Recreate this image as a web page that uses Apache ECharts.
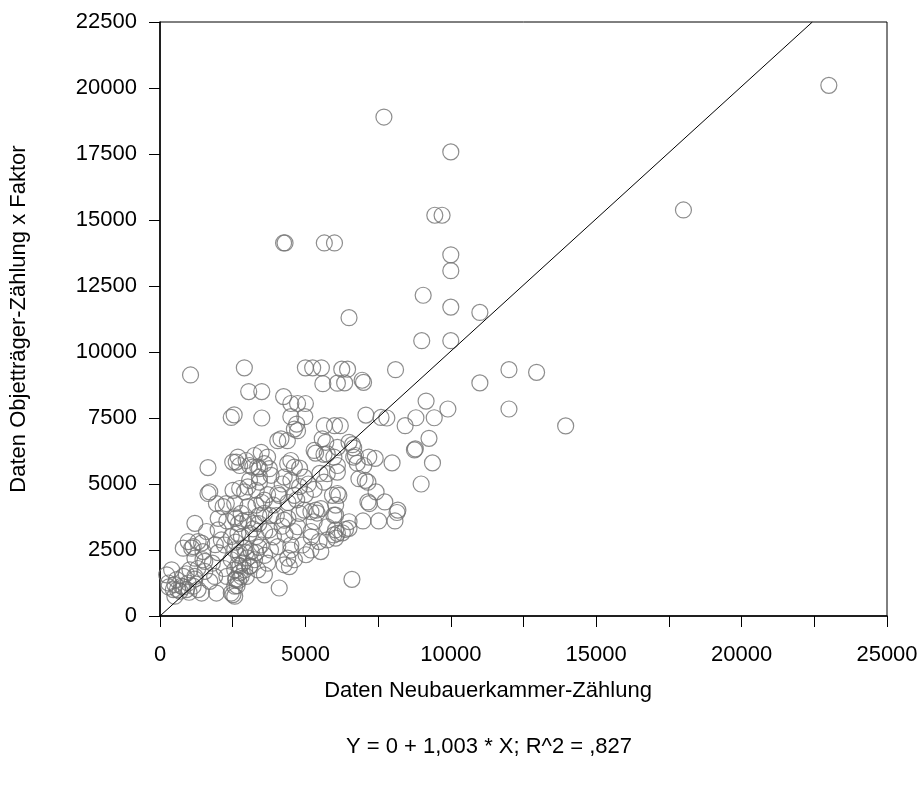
<!DOCTYPE html>
<html>
<head>
<meta charset="utf-8">
<script src="https://cdn.jsdelivr.net/npm/echarts@6/dist/echarts.min.js"></script>
<style>
html,body{margin:0;padding:0;background:#fff;}
#chart{width:922px;height:785px;}
</style>
</head>
<body>
<div id="chart"></div>
<script>
// Axis settings / labels
var xTitle = 'Daten Neubauerkammer-Zählung';
var yTitle = 'Daten Objetträger-Zählung x Faktor';
var fitText = 'Y = 0 + 1,003 * X; R^2 = ,827';
var fitSlope = 1.003;
var fitIntercept = 0;

// Group: high values and outliers
var highX = [23000,18000,7700,10000,9450,9700,10000,10000,9050,10000,11000,4250,4300,5650,6000,6500,9000,10000,6250,6450,6350,6950,7000,8100,12000,12950,11000,9150,9900,12000,13950,1050,2900,5000,5250,5550,5600,6100,3050,3500,4250,4500,4730,5000,4500,4980,3500,2450,2550,5650,6000,7080,7600,7800,8800,9430,8430,6200];
var highY = [20100,15380,18900,17580,15180,15180,13680,13080,12150,11700,11500,14130,14130,14130,14130,11300,10430,10430,9350,9350,8830,8930,8850,9330,9330,9230,8830,8140,7840,7840,7200,9130,9400,9400,9400,9400,8800,8820,8500,8500,8310,8050,8050,8050,7550,7550,7500,7520,7620,7210,7210,7610,7520,7500,7510,7510,7210,7210];

// Group: middle band
var midX = [9250,8750,8780,9370,7980,8980,6500,6620,6720,7180,7400,6780,7010,6840,7060,7150,7430,7150,7200,7730,8180,8150,6500,6980,7520,8080,6380,6500,6270,6600,6040,6040,6150,6100,6040,5980,6660,6100,6660,6100,4160,4380,5580,5700,4620,4730,3250,3480,5350,5640,3080,2620,1650,4050,4700,6100,5300,5750];
var midY = [6730,6290,6330,5800,5800,5000,6580,6490,6080,6020,5970,5790,5700,5200,5140,5070,4700,4320,4260,4320,4010,3920,3570,3600,3600,3600,3280,3320,3150,1390,3820,4200,4570,4640,2950,6020,6020,5700,6370,5450,6710,6640,6710,6580,7080,7020,6080,6200,6170,6120,5700,5830,5620,6640,7270,6390,6270,6140];

// Group: dense centre cluster
var denseX = [3360,3590,3760,4390,4620,4500,2680,2500,2740,2960,3190,3420,3700,3080,3420,3420,3820,4270,4500,4960,5640,5750,5930,5980,5530,5360,3020,3250,3020,3590,3080,4270,4790,4960,5190,4620,4050,4100,3590,3310,3020,4100,3590,4390,4620,4270,4450,5020,4900,5470,5750,5980,5190,4730,4500,4500,4050,3760,3310,3480,3140,3250,3080,3360,2970,6040,5300,5750,6100,5530,5190];
var denseY = [5640,5770,5580,5770,5640,5890,6020,5830,5700,5890,5640,5580,6020,5140,5070,5260,5330,5260,5140,5260,5070,5390,4570,3820,4070,4010,3630,3510,4140,3890,3130,3630,3890,4010,3950,4570,4640,4570,4390,4760,4890,1060,1560,2190,2130,1940,1870,2320,2690,2820,2880,3070,3200,3380,2690,2500,2630,3260,3010,2690,2440,2130,1880,1750,1500,3260,3570,3380,3130,2440,2500];

// Group: low-left cluster
var lowX = [290,510,740,970,460,690,910,1140,570,800,1030,230,400,1200,1310,1430,510,1940,2450,2570,1710,1880,1540,1540,1200,1480,1090,970,1310,1480,1200,2000,2110,2220,2170,1650,1710,1940,2280,2510,2740,2910,2570,2570,2790,2450,2680,2570,2740,2910,2450,2680,2850,2570,2740,2910,2620,2790,2570,2510,800,1140,1430];
var lowY = [1250,1190,1130,1250,1000,940,1000,1130,1380,1500,1750,1560,1750,1500,1000,870,750,870,870,750,1310,1500,1690,2070,2190,2130,2570,2820,2820,2440,3510,3260,2880,2690,4140,4640,4700,4260,4260,4760,4830,4700,4260,3760,3890,3010,3130,2510,2380,2570,2130,1940,2010,1750,1630,1750,1380,1500,1130,810,2570,2630,2760];

// Group: further overlapping points in the dense area
var fillX = [2600,2700,2650,2750,2700,2600,2800,2700,2600,2850,2950,3000,3100,3300,3400,3600,3700,3800,3900,3600,3400,3300,3500,3700,3900,4000,4200,4300,4400,4700,4800,5000,5100,5300,5500,4800,4200,3800,3200,3400,4600,4400,5200,5400,800,600,1000,1200,300,900,1300,1800,2000,2200,2300,1900,2300,2000,1600];
var fillY = [1400,1350,1150,1900,2300,2800,3000,3500,3700,3600,2400,2200,1900,2400,2600,2300,2000,2500,3000,3200,3500,4200,4300,4600,4200,3800,3400,3100,4300,4400,4900,4600,5000,4800,5400,5600,5000,3800,3300,3800,3200,3700,3000,3900,1100,1000,900,1400,1100,1600,1800,2000,2400,1800,1500,2700,3600,3700,3200];

var xTicks = {min: 0, max: 25000, step: 2500, labelStep: 5000};
var yTicks = {min: 0, max: 22500, step: 2500};

function pairs(xs, ys) {
  var out = [];
  for (var i = 0; i < xs.length; i++) out.push([xs[i], ys[i]]);
  return out;
}
var points = [].concat(
  pairs(highX, highY), pairs(midX, midY), pairs(denseX, denseY),
  pairs(lowX, lowY), pairs(fillX, fillY)
);
var fitLine = [[0, fitIntercept], [(yTicks.max - fitIntercept) / fitSlope, yTicks.max]];

var FONT = '"Liberation Sans", Arial, Helvetica, sans-serif';
var FS = 22;
var chart = echarts.init(document.getElementById('chart'), null, {renderer: 'canvas'});
var gridL = 160, gridT = 22, gridW = 727, gridH = 594;
chart.setOption({
  animation: false,
  backgroundColor: '#fff',
  grid: {left: gridL, top: gridT, width: gridW, height: gridH, show: true,
         borderColor: '#000', borderWidth: 1, backgroundColor: 'transparent'},
  xAxis: {
    type: 'value', min: xTicks.min, max: xTicks.max, interval: xTicks.step,
    axisLine: {show: true, onZero: false, lineStyle: {color: '#000', width: 1.5}},
    axisTick: {show: true, inside: false, length: 11, lineStyle: {color: '#000', width: 1}},
    splitLine: {show: false},
    axisLabel: {
      margin: 28, color: '#000', fontSize: FS, fontFamily: FONT, hideOverlap: false,
      formatter: function (v) { return (v % xTicks.labelStep === 0) ? String(v) : ''; }
    }
  },
  yAxis: {
    type: 'value', min: yTicks.min, max: yTicks.max, interval: yTicks.step,
    axisLine: {show: true, onZero: false, lineStyle: {color: '#000', width: 1.5}},
    axisTick: {show: true, inside: false, length: 11, lineStyle: {color: '#000', width: 1}},
    splitLine: {show: false},
    axisLabel: {margin: 23, color: '#000', fontSize: FS, fontFamily: FONT,
      formatter: function (v) { return String(v); }}
  },
  graphic: [
    {type: 'text', x: 488, y: 691,
     style: {text: xTitle, font: FS + 'px ' + FONT, fill: '#000', textAlign: 'center', textVerticalAlign: 'middle'}},
    {type: 'text', x: 489, y: 747,
     style: {text: fitText, font: FS + 'px ' + FONT, fill: '#000', textAlign: 'center', textVerticalAlign: 'middle'}},
    {type: 'text', x: 19, y: gridT + gridH / 2, rotation: Math.PI / 2,
     style: {text: yTitle, font: FS + 'px ' + FONT, fill: '#000', textAlign: 'center', textVerticalAlign: 'middle'}}
  ],
  series: [
    {
      type: 'scatter', data: points, symbol: 'circle', symbolSize: 16,
      itemStyle: {color: 'rgba(0,0,0,0)', borderColor: '#707070', borderWidth: 1.2},
      emphasis: {disabled: true}, z: 2
    },
    {
      type: 'line', data: fitLine, symbol: 'none', clip: true,
      lineStyle: {color: '#000', width: 1}, emphasis: {disabled: true}, z: 3
    }
  ]
});
</script>
</body>
</html>
